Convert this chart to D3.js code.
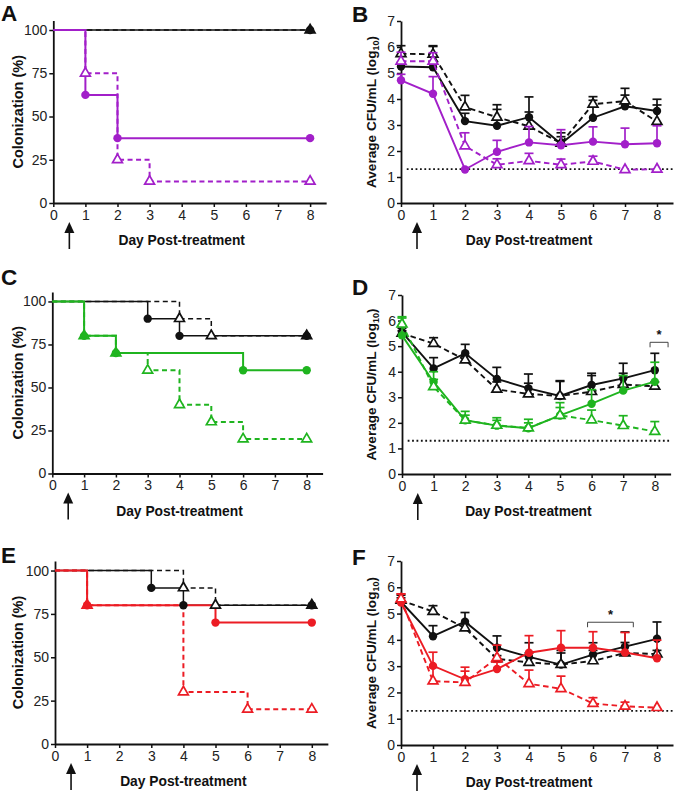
<!DOCTYPE html>
<html><head><meta charset="utf-8">
<script src="https://cdn.jsdelivr.net/npm/d3@7"></script>
<style>body{margin:0;background:#fff} svg{display:block} text{font-family:"Liberation Sans",Arial,Helvetica,sans-serif}</style>
</head><body>
<svg id="c" width="675" height="792"></svg>
<script>
// ---------- DATA ----------
const days = [0,1,2,3,4,5,6,7,8];
const dayTicks = [0,1,2,3,4,5,6,7,8];
const kmTicks = [0,25,50,75,100];
const cfuTicks = [0,1,2,3,4,5,6,7];
const detectionLimit = 1.3;

// Kaplan-Meier (event days, % colonized)
const A_ctrl_t = [0,8],             A_ctrl_v = [100,100];
const A_ctrlDash_t = [0,8],         A_ctrlDash_v = [100,100];
const A_trt_t = [0,1,2,8],          A_trt_v = [100,62.5,37.5,37.5];
const A_trtDash_t = [0,1,2,3,8],    A_trtDash_v = [100,75,25,12.5,12.5];

const C_ctrl_t = [0,3,4,8],         C_ctrl_v = [100,90,80,80];
const C_ctrlDash_t = [0,4,5,8],     C_ctrlDash_v = [100,90,80,80];
const C_trt_t = [0,1,2,6,8],        C_trt_v = [100,80,70,60,60];
const C_trtDash_t = [0,1,2,3,4,5,6,8], C_trtDash_v = [100,80,70,60,40,30,20,20];

const E_ctrl_t = [0,3,4,8],         E_ctrl_v = [100,90,80,80];
const E_ctrlDash_t = [0,4,5,8],     E_ctrlDash_v = [100,90,80,80];
const E_trt_t = [0,1,5,8],          E_trt_v = [100,80,70,70];
const E_trtDash_t = [0,1,4,6,8],    E_trtDash_v = [100,80,30,20,20];

// CFU means and upper error (log10)
const B_ctrl         = [5.25,5.22,3.15,2.97,3.30,2.28,3.28,3.72,3.54];
const B_ctrl_err     = [5.40,6.02,3.45,3.60,4.08,2.55,3.95,4.15,3.99];
const B_ctrlDash     = [5.74,5.72,3.69,3.30,2.95,2.30,3.80,3.92,3.13];
const B_ctrlDash_err = [6.05,6.05,4.14,3.78,3.50,2.70,4.09,4.41,3.77];
const B_trt          = [4.72,4.20,1.29,1.97,2.33,2.22,2.36,2.26,2.30];
const B_trt_err      = [4.95,4.86,1.29,2.41,2.94,2.82,2.93,2.88,2.97];
const B_trtDash      = [5.45,5.45,2.19,1.47,1.62,1.47,1.60,1.28,1.30];
const B_trtDash_err  = [5.80,5.78,2.70,1.70,1.91,1.69,1.80,1.28,1.30];

const D_ctrl         = [5.55,4.13,4.72,3.72,3.35,3.05,3.48,3.74,4.06];
const D_ctrl_err     = [5.70,4.55,5.07,4.17,3.91,3.65,3.94,4.33,4.72];
const D_ctrlDash     = [5.50,5.10,4.46,3.31,3.13,3.05,3.22,3.50,3.43];
const D_ctrlDash_err = [5.60,5.33,4.60,3.60,3.55,3.62,3.85,3.94,3.60];
const D_trt          = [5.42,3.60,2.10,1.89,1.79,2.29,2.75,3.26,3.61];
const D_trt_err      = [6.10,4.00,2.45,2.20,2.14,2.79,3.30,3.85,4.37];
const D_trtDash      = [5.86,3.41,2.10,1.90,1.80,2.29,2.11,1.89,1.66];
const D_trtDash_err  = [6.15,3.70,2.30,2.10,2.00,2.60,2.50,2.28,2.05];

const F_ctrl         = [5.45,4.14,4.69,3.70,3.35,3.06,3.44,3.74,4.04];
const F_ctrl_err     = [5.70,4.54,5.04,4.15,3.89,3.60,3.89,4.30,4.68];
const F_ctrlDash     = [5.50,5.08,4.45,3.28,3.14,3.06,3.20,3.50,3.46];
const F_ctrlDash_err = [5.60,5.30,4.60,3.40,3.50,3.50,3.60,3.90,3.60];
const F_trt          = [5.42,3.01,2.50,2.89,3.51,3.70,3.70,3.52,3.30];
const F_trt_err      = [5.75,3.53,2.96,3.15,4.16,4.35,4.31,4.28,3.99];
const F_trtDash      = [5.55,2.43,2.38,3.32,2.33,2.14,1.58,1.47,1.42];
const F_trtDash_err  = [5.75,2.95,2.81,3.80,2.85,2.62,1.80,1.63,1.42];

// significance brackets [fromDay, toDay, log10 level]
const D_sig = [7.85, 8.42, 5.15];
const F_sig = [5.83, 7.26, 4.67];

const purple = "#A21FC9", green = "#1FB41F", red = "#EC1C24", black = "#111";

// ---------- DRAWING ----------
const svg = d3.select("#c");

function makePanel(o){
  const g = svg.append("g");
  const x = d3.scaleLinear().domain([0, 8.5]).range([o.x0, o.x0 + 8.5*o.dx]);
  const y = d3.scaleLinear().domain(o.yDomain).range([o.bot, o.top]);
  const ax = g.append("g").attr("transform", `translate(0,${o.bot})`)
    .call(d3.axisBottom(x).tickValues(dayTicks).tickSize(4).tickSizeOuter(0).tickPadding(3).tickFormat(d3.format("d")));
  const ay = g.append("g").attr("transform", `translate(${o.x0},0)`)
    .call(d3.axisLeft(y).tickValues(o.yTicks).tickSize(4).tickSizeOuter(0).tickPadding(2).tickFormat(d3.format("d")));
  [ax, ay].forEach(a => {
    a.select(".domain").attr("stroke", "#111").attr("stroke-width", 1.8);
    a.selectAll(".tick line").attr("stroke", "#111").attr("stroke-width", 1.5);
    a.selectAll(".tick text").attr("font-size", 14).attr("fill", "#222")
      .attr("font-family", '"Liberation Sans",Arial,sans-serif');
  });
  // titles
  g.append("text").attr("x", (x(0)+x(8))/2).attr("y", o.bot + 42).attr("text-anchor","middle")
    .attr("font-size", 13.8).attr("font-weight","bold").attr("fill","#111").text("Day Post-treatment");
  const yt = g.append("text").attr("transform", `translate(${o.ytx},${(o.top+o.bot)/2}) rotate(-90)`)
    .attr("text-anchor","middle").attr("font-weight","bold").attr("fill","#111");
  if (o.km) yt.attr("font-size", 14.5).text("Colonization (%)");
  else { yt.attr("font-size", 13.6);
         yt.append("tspan").text("Average CFU/mL (log");
         yt.append("tspan").attr("font-size", 9).attr("dy", 3).text("10");
         yt.append("tspan").attr("dy", -3).text(")"); }
  // letter
  g.append("text").attr("x", o.lx).attr("y", o.ly).attr("font-size", 22.5).attr("font-weight","bold")
    .attr("fill","#111").text(o.letter);
  // arrow at treatment (day 0.5)
  const xa = x(0.5);
  g.append("line").attr("x1", xa).attr("x2", xa).attr("y1", o.bot + 27).attr("y2", o.bot + 46)
    .attr("stroke", "#111").attr("stroke-width", 1.6);
  g.append("path").attr("d", `M${xa-5},${o.bot+30}L${xa},${o.bot+19}L${xa+5},${o.bot+30}Z`).attr("fill","#111");
  return {g, x, y};
}

function marker(g, kind, color, cx, cy){
  if (kind === "circle") {
    g.append("circle").attr("cx", cx).attr("cy", cy).attr("r", 4.2).attr("fill", color);
  } else {
    g.append("path").attr("transform", `translate(${cx},${cy})`)
      .attr("d", d3.symbol(d3.symbolTriangle, 42)())
      .attr("fill", "#fff").attr("stroke", color).attr("stroke-width", 1.7);
  }
}

function drawKM(P, series){
  const line = d3.line().x(d => P.x(d[0])).y(d => P.y(d[1])).curve(d3.curveStepAfter);
  series.forEach(s => {
    const pts = s.t.map((t,i) => [t, s.v[i]]);
    P.g.append("path").attr("d", line(pts)).attr("fill","none").attr("stroke", s.color)
      .attr("stroke-width", s.color === black ? 1.5 : 2).attr("stroke-dasharray", s.dash ? "5,3.5" : null);
  });
  ["tri","circle"].forEach(kind => {
    series.filter(s => s.marker === kind).forEach(s => {
      s.t.forEach((t,i) => { if (i > 0) marker(P.g, kind, s.color, P.x(t), P.y(s.v[i])); });
    });
  });
}

function drawCFU(P, series, sig){
  P.g.append("line").attr("x1", P.x(0.18)).attr("x2", P.x(8.5))
    .attr("y1", P.y(detectionLimit)).attr("y2", P.y(detectionLimit))
    .attr("stroke", "#111").attr("stroke-width", 1.8).attr("stroke-dasharray", "1.8,2.6");
  const line = d3.line().x((d,i) => P.x(days[i])).y(d => P.y(d));
  series.forEach(s => {
    const eg = P.g.append("g").attr("stroke", s.color).attr("stroke-width", 1.7);
    s.v.forEach((v,i) => {
      const e = s.e[i];
      if (e - v > 0.02) {
        const cx = P.x(days[i]);
        eg.append("line").attr("x1", cx).attr("x2", cx).attr("y1", P.y(v)).attr("y2", P.y(e));
        eg.append("line").attr("x1", cx-4.5).attr("x2", cx+4.5).attr("y1", P.y(e)).attr("y2", P.y(e));
      }
    });
    P.g.append("path").attr("d", line(s.v)).attr("fill","none").attr("stroke", s.color)
      .attr("stroke-width", 1.9).attr("stroke-dasharray", s.dash ? "5.5,3.5" : null);
    s.v.forEach((v,i) => marker(P.g, s.marker, s.color, P.x(days[i]), P.y(v)));
  });
  if (sig) {
    const x1 = P.x(sig[0]), x2 = P.x(sig[1]), yy = P.y(sig[2]);
    P.g.append("path").attr("d", `M${x1},${yy+5}V${yy}H${x2}V${yy+5}`).attr("fill","none")
      .attr("stroke","#444").attr("stroke-width", 1);
    P.g.append("text").attr("x", (x1+x2)/2).attr("y", yy-3).attr("text-anchor","middle")
      .attr("font-size", 13).attr("font-weight","bold").attr("fill","#111").text("*");
  }
}

const kmDom = [0, 105.5], cfuDom = [0, 7];

const PA = makePanel({km:true, letter:"A", lx:1, ly:21, x0:53.3, dx:32.1, top:20.5, bot:203, yDomain:kmDom, yTicks:kmTicks, ytx:23});
drawKM(PA, [
  {t:A_ctrl_t, v:A_ctrl_v, color:black, dash:false, marker:"circle"},
  {t:A_ctrlDash_t, v:A_ctrlDash_v, color:black, dash:true, marker:"tri"},
  {t:A_trt_t, v:A_trt_v, color:purple, dash:false, marker:"circle"},
  {t:A_trtDash_t, v:A_trtDash_v, color:purple, dash:true, marker:"tri"}]);

const PB = makePanel({km:false, letter:"B", lx:352, ly:22, x0:401, dx:32, top:21, bot:203, yDomain:cfuDom, yTicks:cfuTicks, ytx:376});
drawCFU(PB, [
  {v:B_ctrl, e:B_ctrl_err, color:black, dash:false, marker:"circle"},
  {v:B_ctrlDash, e:B_ctrlDash_err, color:black, dash:true, marker:"tri"},
  {v:B_trt, e:B_trt_err, color:purple, dash:false, marker:"circle"},
  {v:B_trtDash, e:B_trtDash_err, color:purple, dash:true, marker:"tri"}], null);

const PC = makePanel({km:true, letter:"C", lx:1, ly:285, x0:52.3, dx:31.8, top:292, bot:473.5, yDomain:kmDom, yTicks:kmTicks, ytx:23});
drawKM(PC, [
  {t:C_ctrl_t, v:C_ctrl_v, color:black, dash:false, marker:"circle"},
  {t:C_ctrlDash_t, v:C_ctrlDash_v, color:black, dash:true, marker:"tri"},
  {t:C_trt_t, v:C_trt_v, color:green, dash:false, marker:"circle"},
  {t:C_trtDash_t, v:C_trtDash_v, color:green, dash:true, marker:"tri"}]);

const PD = makePanel({km:false, letter:"D", lx:352, ly:295, x0:402, dx:31.6, top:295, bot:474, yDomain:cfuDom, yTicks:cfuTicks, ytx:376});
drawCFU(PD, [
  {v:D_ctrl, e:D_ctrl_err, color:black, dash:false, marker:"circle"},
  {v:D_ctrlDash, e:D_ctrlDash_err, color:black, dash:true, marker:"tri"},
  {v:D_trt, e:D_trt_err, color:green, dash:false, marker:"circle"},
  {v:D_trtDash, e:D_trtDash_err, color:green, dash:true, marker:"tri"}], D_sig);

const PE = makePanel({km:true, letter:"E", lx:1, ly:563, x0:55, dx:32.1, top:561, bot:744, yDomain:kmDom, yTicks:kmTicks, ytx:23});
drawKM(PE, [
  {t:E_ctrl_t, v:E_ctrl_v, color:black, dash:false, marker:"circle"},
  {t:E_ctrlDash_t, v:E_ctrlDash_v, color:black, dash:true, marker:"tri"},
  {t:E_trt_t, v:E_trt_v, color:red, dash:false, marker:"circle"},
  {t:E_trtDash_t, v:E_trtDash_v, color:red, dash:true, marker:"tri"}]);

const PF = makePanel({km:false, letter:"F", lx:352, ly:565, x0:401, dx:32, top:561, bot:745, yDomain:cfuDom, yTicks:cfuTicks, ytx:376});
drawCFU(PF, [
  {v:F_ctrl, e:F_ctrl_err, color:black, dash:false, marker:"circle"},
  {v:F_ctrlDash, e:F_ctrlDash_err, color:black, dash:true, marker:"tri"},
  {v:F_trt, e:F_trt_err, color:red, dash:false, marker:"circle"},
  {v:F_trtDash, e:F_trtDash_err, color:red, dash:true, marker:"tri"}], F_sig);
</script>
</body></html>
